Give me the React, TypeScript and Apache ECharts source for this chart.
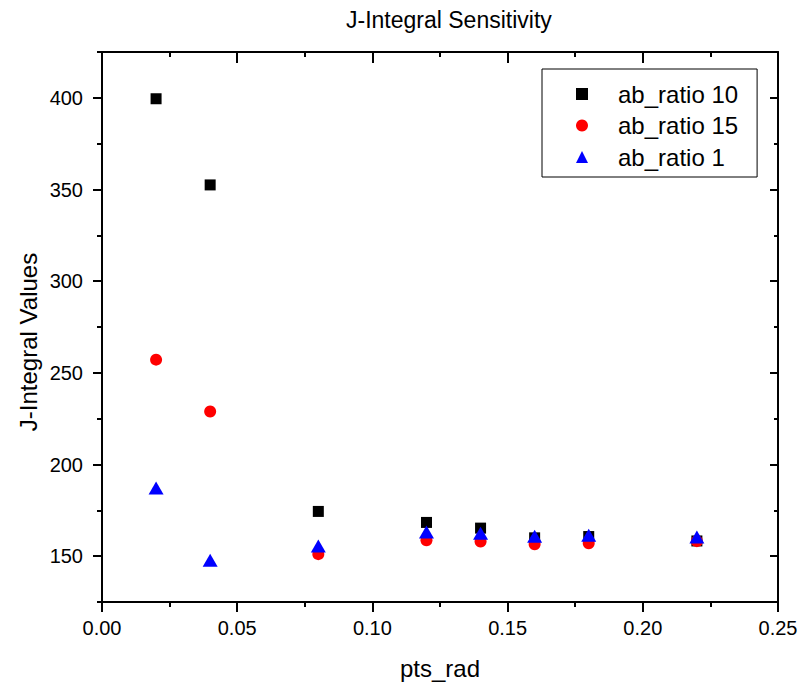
import React, { useEffect, useRef } from "react";
import * as echarts from "echarts";

const xValues = [0.02, 0.04, 0.08, 0.12, 0.14, 0.16, 0.18, 0.22];
const ratio10 = [399.5, 352.5, 174.4, 168.4, 165.3, 160.0, 160.7, 158.3];
const ratio15 = [257.2, 228.9, 151.1, 158.7, 158.0, 156.5, 157.0, 158.2];
const ratio1 = [187.2, 147.8, 155.6, 163.2, 162.5, 160.9, 161.4, 160.5];
const yMajorTicks = [150, 200, 250, 300, 350, 400];
const yMinorTicks = [125, 175, 225, 275, 325, 375, 425];
const seriesNames = ["ab_ratio 10", "ab_ratio 15", "ab_ratio 1"];

const FONT = "'Liberation Sans', Arial, sans-serif";
const BLACK = "#000000";

export default function App() {
  const ref = useRef<HTMLDivElement>(null);
  useEffect(() => {
    if (!ref.current) return;
    const chart = echarts.init(ref.current, null, { renderer: "svg" });
    const line = { color: BLACK, width: 2 };
    const yBase = (position: string) => ({
      type: "value",
      position,
      min: 125,
      max: 425,
      splitLine: { show: false },
      axisLabel: { show: false },
    });
    const xBase = {
      type: "value",
      min: 0,
      max: 0.25,
      interval: 0.05,
      splitLine: { show: false },
      axisLine: { show: true, lineStyle: line },
    };
    chart.setOption({
      animation: false,
      backgroundColor: "#ffffff",
      title: {
        text: "J-Integral Sensitivity",
        left: 341,
        top: 3,
        textStyle: { fontSize: 23, fontWeight: "normal", color: BLACK, fontFamily: FONT },
      },
      grid: { left: 102, right: 23, top: 52, bottom: 86, outerBoundsMode: "none", containLabel: false },
      legend: {
        orient: "vertical",
        left: 542,
        top: 69,
        padding: [13, 19, 8, 34],
        itemWidth: 12,
        itemHeight: 12,
        itemGap: 7.5,
        borderColor: BLACK,
        borderWidth: 1,
        textStyle: { fontSize: 24, color: BLACK, fontFamily: FONT, padding: [0, 0, 0, 25] },
        data: [
          { name: seriesNames[0], icon: "rect" },
          { name: seriesNames[1], icon: "circle" },
          { name: seriesNames[2], icon: "triangle" },
        ],
      },
      graphic: [
        {
          type: "text",
          x: 28,
          y: 342,
          rotation: Math.PI / 2,
          style: {
            text: "J-Integral Values",
            fontSize: 24,
            fontFamily: FONT,
            fill: BLACK,
            textAlign: "center",
            textVerticalAlign: "middle",
          },
        },
      ],
      xAxis: [
        {
          ...xBase,
          position: "bottom",
          axisTick: { show: true, length: 10, lineStyle: line },
          minorTick: { show: true, splitNumber: 2, length: 5, lineStyle: line },
          axisLabel: {
            show: true,
            fontSize: 20,
            color: BLACK,
            fontFamily: FONT,
            margin: 16,
            formatter: (v: number) => v.toFixed(2),
          },
          name: "pts_rad",
          nameLocation: "middle",
          nameGap: 54,
          nameTextStyle: { fontSize: 24, color: BLACK, fontFamily: FONT },
        },
        {
          ...xBase,
          position: "top",
          axisTick: { show: true, inside: true, length: 11, lineStyle: line },
          minorTick: { show: true, splitNumber: 2, length: 5, lineStyle: line },
          axisLabel: { show: false },
        },
      ],
      yAxis: [
        {
          ...yBase("left"),
          axisLine: { show: true, lineStyle: line },
          axisTick: { show: true, customValues: yMajorTicks, length: 9, lineStyle: line },
          axisLabel: {
            show: true,
            customValues: yMajorTicks,
            fontSize: 20,
            color: BLACK,
            fontFamily: FONT,
            margin: 19,
          },
        },
        {
          ...yBase("left"),
          axisLine: { show: false },
          axisTick: { show: true, customValues: yMinorTicks, length: 5, lineStyle: line },
        },
        {
          ...yBase("right"),
          axisLine: { show: true, lineStyle: line },
          axisTick: { show: true, inside: true, customValues: yMajorTicks, length: 8, lineStyle: line },
        },
        {
          ...yBase("right"),
          axisLine: { show: false },
          axisTick: { show: true, inside: true, customValues: yMinorTicks, length: 4, lineStyle: line },
        },
      ],
      series: [
        {
          name: seriesNames[0],
          type: "scatter",
          symbol: "rect",
          symbolSize: 11,
          itemStyle: { color: "#000000", opacity: 1 },
          data: xValues.map((x, i) => [x, ratio10[i]]),
        },
        {
          name: seriesNames[1],
          type: "scatter",
          symbol: "circle",
          symbolSize: 12,
          itemStyle: { color: "#ff0000", opacity: 1 },
          data: xValues.map((x, i) => [x, ratio15[i]]),
        },
        {
          name: seriesNames[2],
          type: "scatter",
          symbol: "triangle",
          symbolSize: [15, 13],
          itemStyle: { color: "#0000ff", opacity: 1 },
          data: xValues.map((x, i) => [x, ratio1[i]]),
        },
      ],
    });
    return () => chart.dispose();
  }, []);
  return (
    <div
      ref={ref}
      style={{ position: "absolute", left: 0, top: 0, width: 801, height: 688, background: "#fff" }}
    />
  );
}
